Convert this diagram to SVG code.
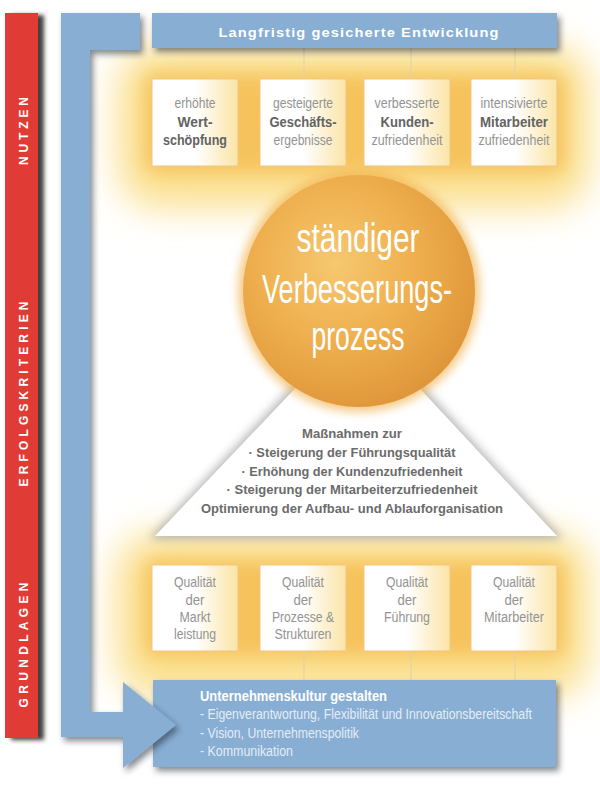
<svg xmlns="http://www.w3.org/2000/svg" width="600" height="790" viewBox="0 0 600 790">
<defs>
<style>
.sans{font-family:"Liberation Sans",Arial,sans-serif;}
.side{font-family:"Liberation Sans",Arial,sans-serif;font-weight:bold;font-size:12px;fill:#ffffff;text-anchor:middle;}
.lt{font-family:"Liberation Sans",Arial,sans-serif;font-size:14px;fill:#939393;text-anchor:middle;}
.bd{font-family:"Liberation Sans",Arial,sans-serif;font-size:14px;font-weight:bold;fill:#636363;text-anchor:middle;}
.tri{font-family:"Liberation Sans",Arial,sans-serif;font-size:13px;font-weight:bold;fill:#6b6b6b;text-anchor:middle;}
.ball{font-family:"Liberation Sans",Arial,sans-serif;font-size:41px;fill:#ffffff;text-anchor:middle;}
.box{fill:url(#boxg);stroke:#f3c584;stroke-width:1;}
.blue{fill:#88aed3;}
.conn{stroke:#e3cfa8;stroke-width:1;fill:none;}
.ban{font-family:"Liberation Sans",Arial,sans-serif;font-size:14px;fill:#e4edf6;}
</style>
<filter id="blurBig" x="-30%" y="-50%" width="160%" height="200%"><feGaussianBlur stdDeviation="18"/></filter>
<filter id="blurMid" x="-30%" y="-50%" width="160%" height="200%"><feGaussianBlur stdDeviation="9"/></filter>
<filter id="blurSm" x="-30%" y="-30%" width="160%" height="160%"><feGaussianBlur stdDeviation="5"/></filter>
<filter id="shadow" x="-10%" y="-20%" width="130%" height="150%"><feDropShadow dx="3" dy="4" stdDeviation="3" flood-color="#1e2a36" flood-opacity="0.55"/></filter>
<filter id="redsh" x="-20%" y="-5%" width="160%" height="110%"><feDropShadow dx="6" dy="2" stdDeviation="2" flood-color="#222222" flood-opacity="0.85"/></filter>
<linearGradient id="boxg" x1="0" y1="0" x2="1" y2="0"><stop offset="0.5" stop-color="#ffffff"/><stop offset="1" stop-color="#fbe4a6"/></linearGradient>
<radialGradient id="ballg" cx="0.4" cy="0.38" r="0.65"><stop offset="0" stop-color="#f6c870"/><stop offset="0.55" stop-color="#eeae4d"/><stop offset="1" stop-color="#df963a"/></radialGradient>
</defs>

<!-- glows -->
<g id="glow-top">
<rect x="118" y="46" width="472" height="162" rx="40" fill="#fbe08e" filter="url(#blurBig)"/>
<rect x="145" y="74" width="420" height="98" rx="10" fill="#f4bb50" opacity="0.8" filter="url(#blurMid)"/>
</g>
<g id="glow-bottom">
<rect x="116" y="533" width="474" height="164" rx="40" fill="#fbe08e" filter="url(#blurBig)"/>
<rect x="145" y="560" width="420" height="96" rx="10" fill="#f4bb50" opacity="0.8" filter="url(#blurMid)"/>
</g>

<!-- connectors -->
<g id="connectors">
<line class="conn" x1="304" y1="48" x2="304" y2="79"/>
<line class="conn" x1="411" y1="48" x2="411" y2="79"/>
<line class="conn" x1="515" y1="48" x2="515" y2="79"/>
<line class="conn" x1="304" y1="651" x2="304" y2="680"/>
<line class="conn" x1="411" y1="651" x2="411" y2="680"/>
<line class="conn" x1="515" y1="651" x2="515" y2="680"/>
</g>

<!-- top boxes -->
<g id="n-wertschoepfung">
<rect class="box" x="152" y="79" width="86" height="87"/>
<text class="lt" x="195" y="108" textLength="41" lengthAdjust="spacingAndGlyphs">erhöhte</text>
<text class="bd" x="195" y="127" textLength="35" lengthAdjust="spacingAndGlyphs">Wert-</text>
<text class="bd" x="195" y="145" textLength="64" lengthAdjust="spacingAndGlyphs">schöpfung</text>
</g>
<g id="n-geschaeftsergebnisse">
<rect class="box" x="260" y="79" width="86" height="87"/>
<text class="lt" x="303" y="108" textLength="60" lengthAdjust="spacingAndGlyphs">gesteigerte</text>
<text class="bd" x="303" y="127" textLength="67" lengthAdjust="spacingAndGlyphs">Geschäfts-</text>
<text class="lt" x="303" y="145" textLength="59" lengthAdjust="spacingAndGlyphs">ergebnisse</text>
</g>
<g id="n-kundenzufriedenheit">
<rect class="box" x="364" y="79" width="86" height="87"/>
<text class="lt" x="407" y="108" textLength="65" lengthAdjust="spacingAndGlyphs">verbesserte</text>
<text class="bd" x="407" y="127" textLength="53" lengthAdjust="spacingAndGlyphs">Kunden-</text>
<text class="lt" x="407" y="145" textLength="71" lengthAdjust="spacingAndGlyphs">zufriedenheit</text>
</g>
<g id="n-mitarbeiterzufriedenheit">
<rect class="box" x="471" y="79" width="86" height="87"/>
<text class="lt" x="514" y="108" textLength="67" lengthAdjust="spacingAndGlyphs">intensivierte</text>
<text class="bd" x="514" y="127" textLength="68" lengthAdjust="spacingAndGlyphs">Mitarbeiter</text>
<text class="lt" x="514" y="145" textLength="71" lengthAdjust="spacingAndGlyphs">zufriedenheit</text>
</g>

<!-- bottom boxes -->
<g id="n-marktleistung">
<rect class="box" x="152" y="565" width="86" height="86"/>
<text class="lt" x="195" y="587" textLength="42" lengthAdjust="spacingAndGlyphs">Qualität</text>
<text class="lt" x="195" y="605" textLength="19" lengthAdjust="spacingAndGlyphs">der</text>
<text class="lt" x="195" y="622" textLength="31" lengthAdjust="spacingAndGlyphs">Markt</text>
<text class="lt" x="195" y="639" textLength="42" lengthAdjust="spacingAndGlyphs">leistung</text>
</g>
<g id="n-prozesse">
<rect class="box" x="260" y="565" width="86" height="86"/>
<text class="lt" x="303" y="587" textLength="42" lengthAdjust="spacingAndGlyphs">Qualität</text>
<text class="lt" x="303" y="605" textLength="19" lengthAdjust="spacingAndGlyphs">der</text>
<text class="lt" x="303" y="622" textLength="62" lengthAdjust="spacingAndGlyphs">Prozesse &amp;</text>
<text class="lt" x="303" y="639" textLength="57" lengthAdjust="spacingAndGlyphs">Strukturen</text>
</g>
<g id="n-fuehrung">
<rect class="box" x="364" y="565" width="86" height="86"/>
<text class="lt" x="407" y="587" textLength="42" lengthAdjust="spacingAndGlyphs">Qualität</text>
<text class="lt" x="407" y="605" textLength="19" lengthAdjust="spacingAndGlyphs">der</text>
<text class="lt" x="407" y="622" textLength="46" lengthAdjust="spacingAndGlyphs">Führung</text>
</g>
<g id="n-mitarbeiter">
<rect class="box" x="471" y="565" width="86" height="86"/>
<text class="lt" x="514" y="587" textLength="42" lengthAdjust="spacingAndGlyphs">Qualität</text>
<text class="lt" x="514" y="605" textLength="19" lengthAdjust="spacingAndGlyphs">der</text>
<text class="lt" x="514" y="622" textLength="60" lengthAdjust="spacingAndGlyphs">Mitarbeiter</text>
</g>

<!-- triangle -->
<g id="n-massnahmen">
<polygon points="358,316 149,539 563,539" fill="#9a9a9a" opacity="0.7" filter="url(#blurSm)"/>
<polygon points="358,322 155,536 557,536" fill="#ffffff"/>
<text class="tri" x="352" y="438" textLength="100" lengthAdjust="spacingAndGlyphs">Maßnahmen zur</text>
<text class="tri" x="352" y="457" textLength="207" lengthAdjust="spacingAndGlyphs">· Steigerung der Führungsqualität</text>
<text class="tri" x="352" y="476" textLength="221" lengthAdjust="spacingAndGlyphs">· Erhöhung der Kundenzufriedenheit</text>
<text class="tri" x="352" y="494" textLength="251" lengthAdjust="spacingAndGlyphs">· Steigerung der Mitarbeiterzufriedenheit</text>
<text class="tri" x="352" y="513" textLength="302" lengthAdjust="spacingAndGlyphs">Optimierung der Aufbau- und Ablauforganisation</text>
</g>

<!-- circle -->
<g id="n-verbesserungsprozess">
<circle cx="359" cy="291" r="121" fill="#f2b452" opacity="0.7" filter="url(#blurSm)"/>
<circle cx="359" cy="291" r="116" fill="url(#ballg)"/>
<text class="ball" x="358" y="252" textLength="123" lengthAdjust="spacingAndGlyphs">ständiger</text>
<text class="ball" x="357" y="303" textLength="190" lengthAdjust="spacingAndGlyphs">Verbesserungs-</text>
<text class="ball" x="358" y="350" textLength="93" lengthAdjust="spacingAndGlyphs">prozess</text>
</g>

<!-- top banner -->
<g id="n-entwicklung">
<rect class="blue" x="152" y="13" width="405" height="35" filter="url(#shadow)"/>
<text class="sans" x="359" y="37" font-size="13" font-weight="bold" fill="#ffffff" text-anchor="middle" textLength="281" lengthAdjust="spacingAndGlyphs" letter-spacing="1">Langfristig gesicherte Entwicklung</text>
</g>

<!-- bottom banner -->
<g id="n-unternehmenskultur">
<rect class="blue" x="153" y="680" width="403" height="87" filter="url(#shadow)"/>
<text class="sans" x="200" y="701" font-size="14" font-weight="bold" fill="#ffffff" textLength="187" lengthAdjust="spacingAndGlyphs">Unternehmenskultur gestalten</text>
<text class="ban" x="200" y="719" textLength="332" lengthAdjust="spacingAndGlyphs">- Eigenverantwortung, Flexibilität und Innovationsbereitschaft</text>
<text class="ban" x="200" y="738" textLength="159" lengthAdjust="spacingAndGlyphs">- Vision, Unternehmenspolitik</text>
<text class="ban" x="200" y="756" textLength="93" lengthAdjust="spacingAndGlyphs">- Kommunikation</text>
</g>

<!-- blue L arrow -->
<g id="flow-arrow">
<path class="blue" d="M61,13 H140 V50 H90 V712 H123 V682 L176,725 L123,768 V737 H61 Z" filter="url(#shadow)"/>
</g>

<!-- red side bar -->
<g id="sidebar">
<rect x="5" y="13" width="33" height="725" fill="#e03b34" filter="url(#redsh)"/>
<text class="side" transform="translate(27.5,131) rotate(-90)" textLength="68" lengthAdjust="spacing">NUTZEN</text>
<text class="side" transform="translate(27.5,394) rotate(-90)" textLength="185" lengthAdjust="spacing">ERFOLGSKRITERIEN</text>
<text class="side" transform="translate(27.5,645) rotate(-90)" textLength="125" lengthAdjust="spacing">GRUNDLAGEN</text>
</g>
</svg>
